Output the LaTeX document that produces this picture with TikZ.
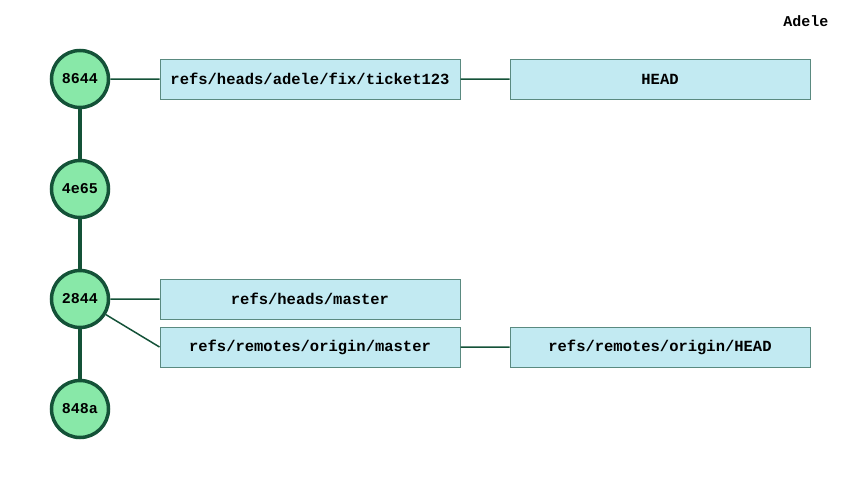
\documentclass[tikz,border=0pt]{standalone}
\usepackage{fontspec}
\setmonofont{Liberation Mono}
\usetikzlibrary{positioning}
\definecolor{commitfill}{HTML}{88E8A8}
\definecolor{commitline}{HTML}{145238}
\definecolor{reffill}{HTML}{C2EAF2}
\definecolor{refline}{HTML}{5A8A80}
\tikzset{
  commit/.style={circle,draw=commitline,fill=commitfill,line width=3.5pt,minimum size=57pt,inner sep=0pt,
    font=\fontsize{15}{15}\selectfont\ttfamily\bfseries},
  refbox/.style={rectangle,draw=refline,fill=reffill,line width=1pt,minimum width=300pt,minimum height=40pt,inner sep=0pt,
    font=\fontsize{15.5}{15.5}\selectfont\ttfamily\bfseries},
  parent/.style={draw=commitline,line width=4pt},
  link/.style={draw=commitline,line width=1.5pt}
}
\begin{document}
\begin{tikzpicture}[x=1pt,y=1pt,node distance=110pt,on grid]
  \useasboundingbox (0,0) rectangle (860,-490);
  \node[commit] (c8644) at (80,-79) {8644};
  \node[commit] [below=of c8644] (c4e65) {4e65};
  \node[commit] [below=of c4e65] (c2844) {2844};
  \node[commit] [below=of c2844] (c848a) {848a};
  \node[refbox] [right=230pt of c8644] (fix) {refs/heads/adele/fix/ticket123};
  \node[refbox] [right=350pt of fix] (head) {HEAD};
  \node[refbox] [right=230pt of c2844] (master) {refs/heads/master};
  \node[refbox] [below=48pt of master] (omaster) {refs/remotes/origin/master};
  \node[refbox] [right=350pt of omaster] (ohead) {refs/remotes/origin/HEAD};
  \node[anchor=east,font=\fontsize{15}{15}\selectfont\ttfamily\bfseries] (user) at (832,-21) {Adele};
  \path[parent] (c8644) -- (c4e65) (c4e65) -- (c2844) (c2844) -- (c848a);
  \path[link] (c8644) -- (fix) (fix) -- (head)
    (c2844) -- (master) (c2844) -- (omaster.west) (omaster) -- (ohead);
\end{tikzpicture}
\end{document}
